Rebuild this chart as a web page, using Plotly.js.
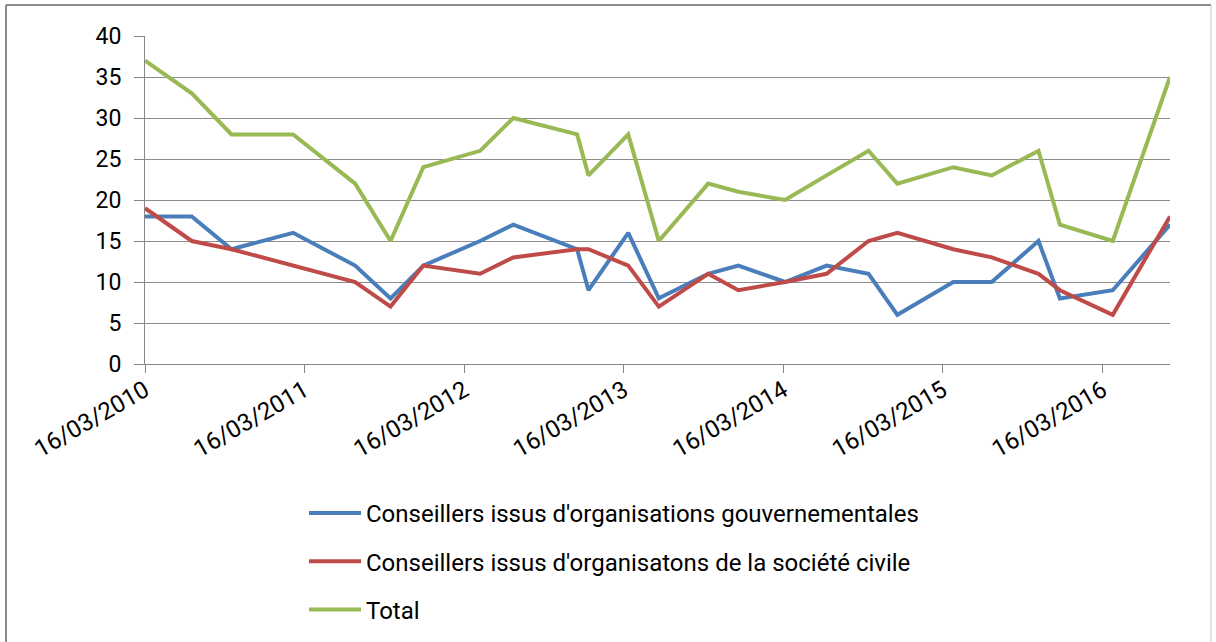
<!DOCTYPE html>
<html>
<head>
<meta charset="utf-8">
<script src="https://cdn.plot.ly/plotly-3.0.1.min.js"></script>
<style>
html, body { margin: 0; padding: 0; background: #ffffff; }
#chart { width: 1216px; height: 642px; }
</style>
</head>
<body>
<div id="chart"></div>
<script>
const dates = [
  "2010-03-16", "2010-07-01", "2010-09-30", "2011-02-18", "2011-07-10",
  "2011-09-29", "2011-12-13", "2012-04-21", "2012-07-06", "2012-11-29",
  "2012-12-25", "2013-03-26", "2013-06-04", "2013-09-25", "2013-12-03",
  "2014-03-20", "2014-06-23", "2014-09-27", "2014-12-02", "2015-04-09",
  "2015-07-06", "2015-10-21", "2015-12-09", "2016-04-08", "2016-08-17"
];
const gouvernementales = [18, 18, 14, 16, 12, 8, 12, 15, 17, 14, 9, 16, 8, 11, 12, 10, 12, 11, 6, 10, 10, 15, 8, 9, 17];
const societeCivile   = [19, 15, 14, 12, 10, 7, 12, 11, 13, 14, 14, 12, 7, 11, 9, 10, 11, 15, 16, 14, 13, 11, 9, 6, 18];
const total           = [37, 33, 28, 28, 22, 15, 24, 26, 30, 28, 23, 28, 15, 22, 21, 20, 23, 26, 22, 24, 23, 26, 17, 15, 35];

const seriesNames = [
  "Conseillers issus d'organisations gouvernementales",
  "Conseillers issus d'organisatons de la société civile",
  "Total"
];
const tickDates = ["2010-03-16", "2011-03-16", "2012-03-16", "2013-03-16", "2014-03-16", "2015-03-16", "2016-03-16"];
const tickLabels = ["16/03/2010", "16/03/2011", "16/03/2012", "16/03/2013", "16/03/2014", "16/03/2015", "16/03/2016"];

const colors = ["#4A7EBB", "#BE4B48", "#98B954"];
const values = [gouvernementales, societeCivile, total];

const traces = values.map((v, i) => ({
  type: "scatter",
  mode: "lines",
  x: dates,
  y: v,
  name: seriesNames[i],
  legendgroup: "g" + i,
  line: { color: colors[i], width: 4 }
}));

// Paper coordinates for the outer frame
const L = 145, R = 46, T = 36, B = 277, W = 1216, H = 642;
const pw = W - L - R, ph = H - T - B;
const px = p => (p - L) / pw;
const py = p => (H - B - p) / ph;

const layout = {
  width: W,
  height: H,
  margin: { l: L, r: R, t: T, b: B },
  paper_bgcolor: "#ffffff",
  plot_bgcolor: "#ffffff",
  font: { family: "Roboto, 'Liberation Sans', sans-serif", size: 22, color: "#000000" },
  showlegend: true,
  xaxis: {
    type: "date",
    range: [dates[0], dates[dates.length - 1]],
    tickmode: "array",
    tickvals: tickDates,
    ticktext: tickLabels,
    tickangle: -30,
    ticks: "outside",
    ticklen: 8,
    tickcolor: "#868686",
    showline: true,
    linecolor: "#868686",
    linewidth: 1,
    showgrid: false,
    zeroline: false,
    tickfont: { size: 24 },
    ticklabelstandoff: -6
  },
  yaxis: {
    range: [0, 40],
    dtick: 5,
    tick0: 0,
    ticks: "outside",
    ticklen: 10,
    tickcolor: "#868686",
    showline: true,
    linecolor: "#868686",
    linewidth: 1,
    showgrid: true,
    gridcolor: "#8c8c8c",
    gridwidth: 1,
    zeroline: false,
    tickfont: { size: 23 },
    ticklabelstandoff: 8
  },
  legend: {
    orientation: "v",
    x: px(304),
    xanchor: "left",
    y: py(491),
    yanchor: "top",
    itemwidth: 52,
    tracegroupgap: 14,
    font: { size: 24 },
    bgcolor: "rgba(0,0,0,0)"
  },
  shapes: [
    { type: "line", xref: "paper", yref: "paper", x0: px(6), x1: px(6), y0: py(5), y1: py(660), line: { color: "#8a8a8a", width: 2 } },
    { type: "line", xref: "paper", yref: "paper", x0: px(6), x1: px(1211), y0: py(5), y1: py(5), line: { color: "#8a8a8a", width: 2 } },
    { type: "line", xref: "paper", yref: "paper", x0: px(1211), x1: px(1211), y0: py(5), y1: py(660), line: { color: "#c8c8c8", width: 1 } }
  ]
};

Plotly.newPlot("chart", traces, layout, { displayModeBar: false, staticPlot: true });
</script>
</body>
</html>
